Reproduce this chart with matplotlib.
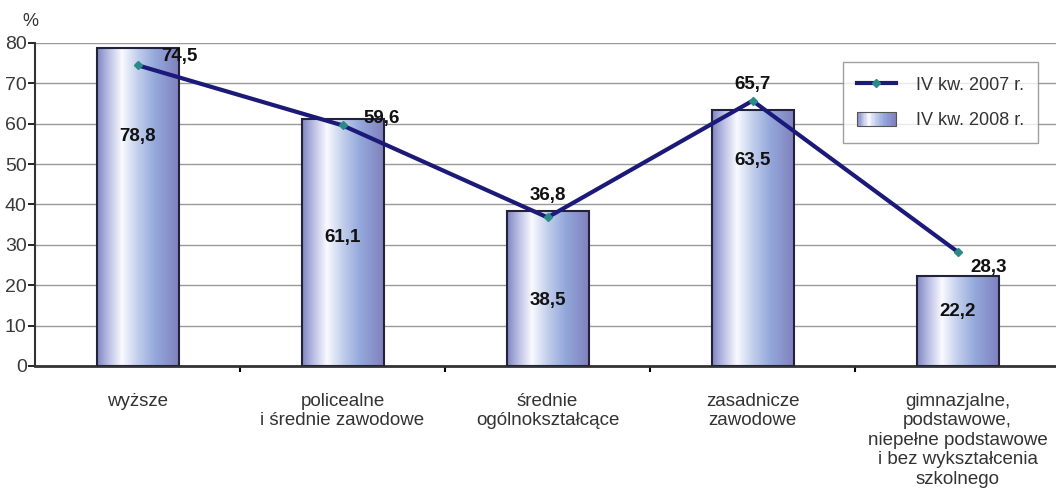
import numpy as np
import matplotlib
matplotlib.use("Agg")
import matplotlib.pyplot as plt
from matplotlib.colors import LinearSegmentedColormap
from matplotlib.legend_handler import HandlerBase
from matplotlib.patches import Rectangle
from matplotlib.lines import Line2D

categories = ["wyższe", "policealne\ni średnie zawodowe", "średnie\nogólnokształcące",
              "zasadnicze\nzawodowe",
              "gimnazjalne,\npodstawowe,\nniepełne podstawowe\ni bez wykształcenia\nszkolnego"]
values_2008 = [78.8, 61.1, 38.5, 63.5, 22.2]
values_2007 = [74.5, 59.6, 36.8, 65.7, 28.3]
series_names = ["IV kw. 2007 r.", "IV kw. 2008 r."]
yticks = [0, 10, 20, 30, 40, 50, 60, 70, 80]

# label placement (layout only)
inner_frac = [0.72, 0.52, 0.42, 0.80, 0.61]
line_offsets = [(30, 6), (28, 5), (0, 16), (0, 12), (22, -11)]

plt.rcParams['font.family'] = ['Liberation Sans', 'DejaVu Sans']

grad = LinearSegmentedColormap.from_list("g", [
    (0.0, (0.50, 0.52, 0.76)),
    (0.12, (0.70, 0.72, 0.88)),
    (0.30, (0.98, 0.98, 1.0)),
    (0.50, (0.75, 0.80, 0.92)),
    (0.70, (0.58, 0.66, 0.86)),
    (1.0, (0.50, 0.50, 0.74)),
])

fig = plt.figure(figsize=(10.56, 4.95), dpi=100)
ax = fig.add_axes([35/1056, 1-366/495, 1021/1056, 323/495])
x = np.arange(len(categories))
bw = 0.4
bars = ax.bar(x, values_2008, width=bw, facecolor='none', edgecolor='#22223a',
              linewidth=1.5, zorder=3)
gimg = np.linspace(0, 1, 256).reshape(1, -1)
for b in bars:
    x0, y0 = b.get_x(), b.get_y()
    w, h = b.get_width(), b.get_height()
    im = ax.imshow(gimg, cmap=grad, aspect='auto', extent=(x0, x0 + w, y0, y0 + h),
                   zorder=2, interpolation='bilinear')
    im.set_clip_path(b)

ax.plot(x, values_2007, color='#1c1a78', linewidth=3, marker='D', markersize=4,
        markerfacecolor='#2a8a88', markeredgecolor='#2a8a88', zorder=4)

for xi, v, f in zip(x, values_2008, inner_frac):
    ax.text(xi, v * f, f"{v:.1f}".replace('.', ','), ha='center', va='center',
            fontsize=13.5, fontweight='bold', zorder=5, color='#111111')
for xi, v, off in zip(x, values_2007, line_offsets):
    ax.annotate(f"{v:.1f}".replace('.', ','), (xi, v), xytext=off, textcoords='offset points',
                ha='center', va='center', fontsize=13.5, fontweight='bold', zorder=5,
                color='#111111')

ax.set_xlim(-0.5, 4.48)
ax.set_ylim(0, 80)
ax.set_yticks(yticks)
ax.tick_params(axis='y', labelsize=14, length=5, width=1.2, direction='out', pad=1,
               labelcolor='#3a3a3a')
ax.set_xticks(np.arange(0.5, 4.5, 1))
ax.set_xticklabels([])
ax.tick_params(axis='x', length=4, width=1.5, direction='out')
ax.yaxis.grid(True, color='#999999', linewidth=1)
ax.set_axisbelow(True)
for s in ['top', 'right']:
    ax.spines[s].set_visible(False)
ax.spines['left'].set_linewidth(1.5)
ax.spines['bottom'].set_linewidth(2)
ax.spines['left'].set_color('#333333')
ax.spines['bottom'].set_color('#333333')

for xi, c in zip(x, categories):
    ax.text(xi, -6.6, c, ha='center', va='top', fontsize=13.5, color='#333333',
            linespacing=1.2, transform=ax.transData)

fig.text(30/1056, 1-22/495, "%", fontsize=13, color='#333333', ha='center', va='center')


class GradHandler(HandlerBase):
    def create_artists(self, legend, orig_handle, xdescent, ydescent, width, height,
                       fontsize, trans):
        arts = []
        n = 30
        hh = height * 0.9
        for i in range(n):
            r = Rectangle((-xdescent + width * i / n, -ydescent + (height - hh) / 2),
                          width / n + 0.2, hh, facecolor=grad(i / (n - 1)),
                          edgecolor='none', transform=trans)
            arts.append(r)
        arts.append(Rectangle((-xdescent, -ydescent + (height - hh) / 2), width, hh,
                              facecolor='none', edgecolor='#555555', linewidth=0.8,
                              transform=trans))
        return arts


line_h = Line2D([], [], color='#1c1a78', linewidth=3, marker='D', markersize=4,
                markerfacecolor='#2a8a88', markeredgecolor='#2a8a88')
patch_h = Rectangle((0, 0), 1, 1)
leg = ax.legend([line_h, patch_h], series_names, handler_map={Rectangle: GradHandler()},
                loc='upper left', bbox_to_anchor=((843 - 35) / 1021, (366 - 62) / 323),
                fontsize=13, frameon=True, fancybox=False, edgecolor='#888888',
                handlelength=2.2, handleheight=1.0, borderpad=0.75, labelspacing=0.95,
                handletextpad=1.1, borderaxespad=0)
leg.get_frame().set_linewidth(1)
for t in leg.get_texts():
    t.set_color('#333333')

fig.savefig("out.png", dpi=100)
